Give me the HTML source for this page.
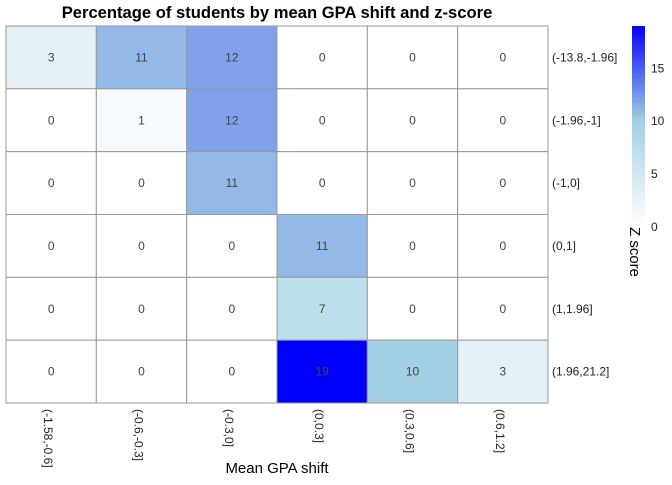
<!DOCTYPE html>
<html><head><meta charset="utf-8"><style>
body{margin:0;background:#fff;font-family:"Liberation Sans",sans-serif;}
</style></head><body>
<svg id="c" width="672" height="480" xmlns="http://www.w3.org/2000/svg">
<defs><linearGradient id="g" x1="0" y1="1" x2="0" y2="0">
<stop offset="0" stop-color="#ffffff"/><stop offset="0.526" stop-color="#a4d0e4"/><stop offset="1" stop-color="#0000ff"/>
</linearGradient></defs>
<text x="277" y="18" text-anchor="middle" font-size="16.6" font-weight="bold" fill="#000">Percentage of students by mean GPA shift and z-score</text>
<g id="cells"></g>
<g id="xl"></g><g id="yl"></g>
<text x="277" y="473" text-anchor="middle" font-size="15" fill="#000">Mean GPA shift</text>
<rect x="632" y="26" width="13" height="201" fill="url(#g)"/>
<g id="cb"></g>
<text transform="translate(630,227) rotate(90)" font-size="15" fill="#000">Z score</text>
</svg>
<script>
const xCats=["(-1.58,-0.6]","(-0.6,-0.3]","(-0.3,0]","(0,0.3]","(0.3,0.6]","(0.6,1.2]"];
const yCats=["(-13.8,-1.96]","(-1.96,-1]","(-1,0]","(0,1]","(1,1.96]","(1.96,21.2]"];
const values=[
[3,11,12,0,0,0],
[0,1,12,0,0,0],
[0,0,11,0,0,0],
[0,0,0,11,0,0],
[0,0,0,7,0,0],
[0,0,0,19,10,3]];
const cbTicks=[0,5,10,15];
const vmax=19;
const L=6,R=548,T=26,B=403;
const cw=(R-L)/xCats.length, ch=(B-T)/yCats.length;
const xs=i=>L+i*cw, ys=j=>T+j*ch;
const cbY=v=>227-v*(201/vmax);
function color(v){
  const s=[[0,[255,255,255]],[10,[164,208,228]],[19,[0,0,255]]];
  let a=s[0],b=s[1]; if(v>10){a=s[1];b=s[2];}
  const t=Math.max(0,Math.min(1,(v-a[0])/(b[0]-a[0])));
  const c=a[1].map((x,k)=>Math.round(x+(b[1][k]-x)*t));
  return `rgb(${c})`;
}
const NS="http://www.w3.org/2000/svg";
function mk(tag,attrs,parent,text){const e=document.createElementNS(NS,tag);for(const k in attrs)e.setAttribute(k,attrs[k]);if(text!==undefined)e.textContent=text;document.getElementById(parent).appendChild(e);return e;}
values.forEach((row,j)=>row.forEach((v,i)=>{
  const r=mk('rect',{x:xs(i),y:ys(j),width:cw,height:ch,fill:color(v),stroke:'#999','stroke-width':1},'cells');
  
  
  const t=mk('text',{x:xs(i)+cw/2,y:ys(j)+ch/2+4,'text-anchor':'middle','font-size':12,fill:'#444'},'cells',v);
  
  
}));
xCats.forEach((c,i)=>{
  const x=xs(i)+cw/2-7;
  const t=mk('text',{transform:`translate(${x},409) rotate(90)`,'font-size':12,fill:'#222'},'xl',c);
  
  
});
yCats.forEach((c,j)=>{
  const t=mk('text',{x:552,y:ys(j)+ch/2+4,'font-size':12,fill:'#222'},'yl',c);
  
  
});
cbTicks.forEach(v=>{
  const t=mk('text',{x:651,y:cbY(v)+4,'font-size':12,fill:'#222'},'cb',v);
  
  
});
</script>
</body></html>
